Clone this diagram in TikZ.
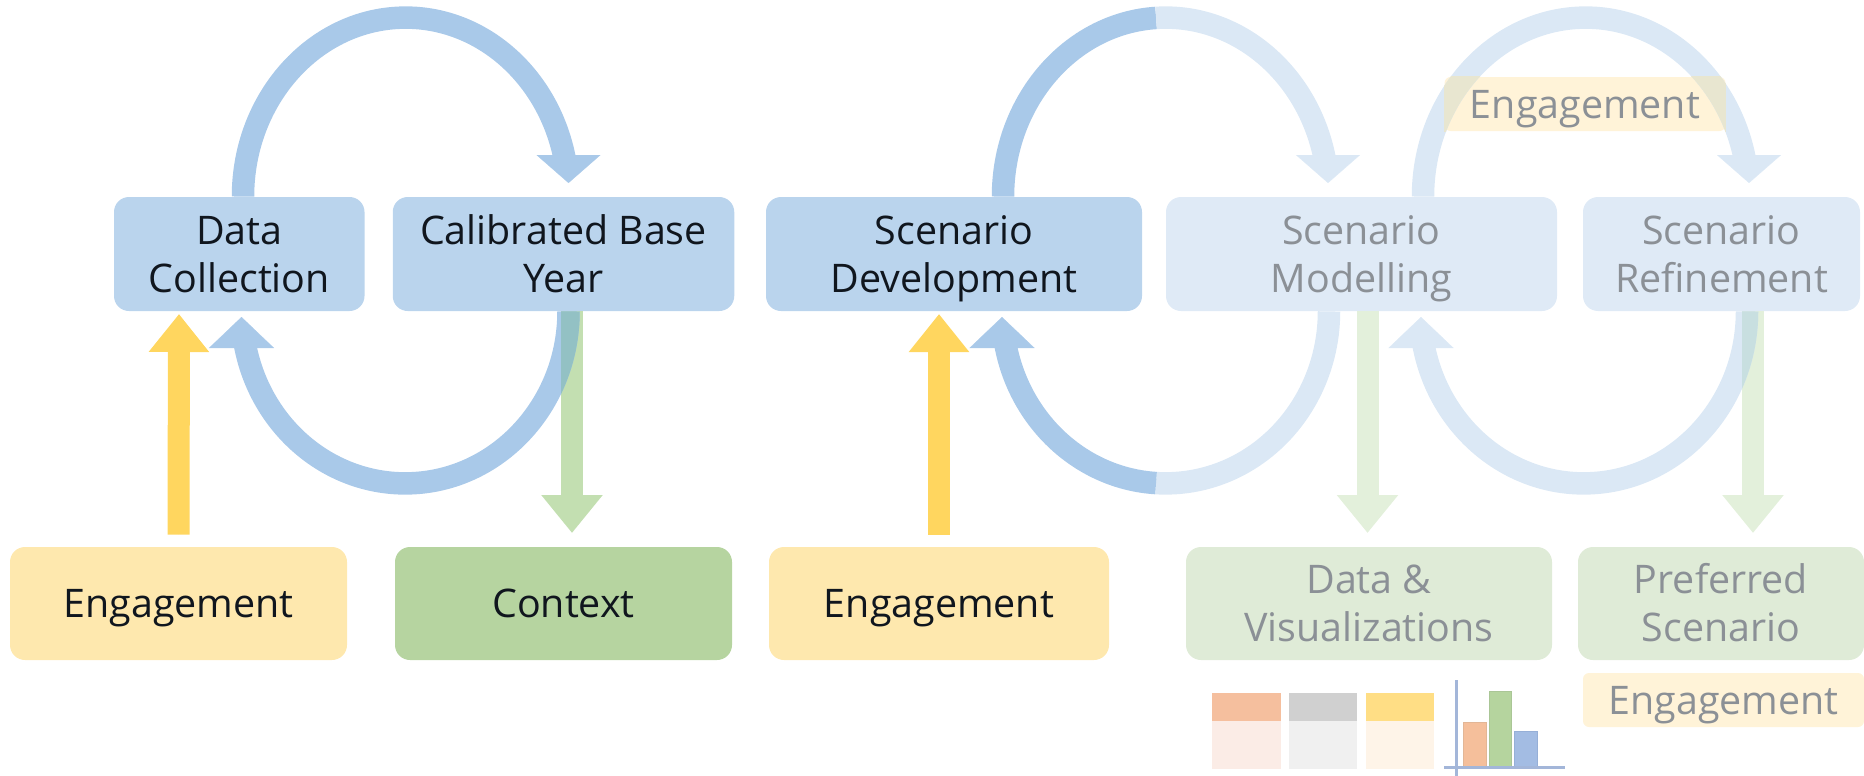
\documentclass[tikz,border=0pt]{standalone}
\usepackage{fontspec}
\setmainfont{Open Sans}
\usetikzlibrary{arrows.meta}
\definecolor{arcD}{HTML}{A9C9E9}
\definecolor{arcL}{HTML}{DBE8F5}
\definecolor{boxD}{HTML}{BAD4ED}
\definecolor{boxL}{HTML}{DFEAF6}
\definecolor{yelA}{HTML}{FFD65F}
\definecolor{yelB}{HTML}{FEE8AE}
\definecolor{yelL}{HTML}{FFF3D8}
\definecolor{grnA}{HTML}{C3DFB1}
\definecolor{grnB}{HTML}{B6D4A0}
\definecolor{grnL}{HTML}{DFEBD7}
\definecolor{grnP}{HTML}{E3F0DB}
\definecolor{txtD}{HTML}{10161E}
\definecolor{txtL}{HTML}{8B9096}
\definecolor{overG}{HTML}{93C1C4}
\definecolor{overL}{HTML}{C8DFE0}
\definecolor{overY}{HTML}{E8E6D0}
\newcommand\lst{\rule[-4.9pt]{0pt}{24pt}}
\tikzset{
  x=0.5pt,y=-0.5pt,
  card/.style={rounded corners=7.5pt,inner sep=0pt,align=center,font=\fontsize{19.7}{24}\selectfont,text=txtD},
  paletext/.style={text=txtL},
  tag/.style={card,rounded corners=3pt,fill=yelL,text=txtL},
  arc/.style={line width=11.25pt,line cap=butt},
  upper/.style={x radius=81.35pt,y radius=89.5pt},
  lower/.style={x radius=81.65pt,y radius=86pt},
  headDown/.style={-{Triangle[length=14pt,width=32pt,sep=0pt]},line width=0.1pt},
  headUp/.style={-{Triangle[length=15.5pt,width=32.5pt,sep=0pt]},line width=0.1pt},
  straightUp/.style={line width=11pt,-{Triangle[length=19pt,width=29pt,sep=0pt]}},
  straightDown/.style={line width=11pt,-{Triangle[length=19pt,width=29.5pt,sep=0pt]}},
}
\begin{document}
\begin{tikzpicture}
\useasboundingbox (0,0) rectangle (1864,776);
% tips
\coordinate (g1tip) at (572,533);
\coordinate (g2tip) at (1367.5,533);
\coordinate (g3tip) at (1753,533);
\coordinate (y1tip) at (179,314);
\coordinate (y2tip) at (939,314);
\coordinate (t1) at (568.5,183);
\coordinate (u1) at (241.5,317);
\coordinate (t2) at (1328,183);
\coordinate (u2) at (1002,317);
\coordinate (t3) at (1749,183);
\coordinate (u3) at (1421,317);
% nodes
\node[card,fill=boxD,minimum width=125.25pt,minimum height=57pt] (dc) at (239.25,254) {Data\lst\\Collection\lst};
\node[card,fill=boxD,minimum width=170.75pt,minimum height=57pt] (cb) at (563.5,254) {Calibrated Base\lst\\Year\lst};
\node[card,fill=boxD,minimum width=188pt,minimum height=57pt] (sd) at (954,254) {Scenario\lst\\Development\lst};
\node[card,fill=boxL,paletext,minimum width=195.5pt,minimum height=57pt] (sm) at (1361.5,254) {Scenario\lst\\Modelling\lst};
\node[card,fill=boxL,paletext,minimum width=138.5pt,minimum height=57pt] (sr) at (1721.5,254) {Scenario\lst\\Refinement\lst};
\node[card,fill=yelB,minimum width=168.5pt,minimum height=56.5pt] (en1) at (178.5,603.5) {Engagement\lst};
\node[card,fill=grnB,minimum width=168.5pt,minimum height=56.5pt] (ctx) at (563.5,603.5) {Context\lst};
\node[card,fill=yelB,minimum width=170pt,minimum height=56.5pt] (en2) at (939,603.5) {Engagement\lst};
\node[card,fill=grnL,paletext,minimum width=183pt,minimum height=56.5pt] (dv) at (1369,603.5) {Data \&\lst\\Visualizations\lst};
\node[card,fill=grnL,paletext,minimum width=143pt,minimum height=56.5pt] (ps) at (1721,603.5) {Preferred\lst\\Scenario\lst};
\node[tag,minimum width=140.5pt,minimum height=27pt] (en3) at (1585,104) {Engagement\lst};
\node[tag,minimum width=140.5pt,minimum height=27pt] (en4) at (1723.5,700) {Engagement\lst};
% straight arrows
\draw[straightDown,draw=grnA,fill=grnA] (572,0 |- cb.south) -- (g1tip);
\draw[straightDown,draw=grnP,fill=grnP] (1367.5,0 |- sm.south) -- (g2tip);
\draw[straightDown,draw=grnP,fill=grnP] (1753,0 |- sr.south) -- (g3tip);
\draw[straightUp,draw=yelA,fill=yelA] ([yshift=6pt]en1.north) -- (y1tip);
\draw[straightUp,draw=yelA,fill=yelA] ([yshift=6pt]en2.north) -- (y2tip);
% loop 1
\draw[arc,draw=arcD] (243,0 |- dc.north) arc[start angle=180,end angle=12,upper];
\draw[headDown,draw=arcD,fill=arcD] ([yshift=14pt]t1) -- (t1);
\draw[arc,draw=arcD] (568.5,0 |- cb.south) arc[start angle=0,end angle=-169,lower];
\draw[headUp,draw=arcD,fill=arcD] ([yshift=-15.5pt]u1) -- (u1);
% loop 2
\draw[arc,draw=arcD] (1003,0 |- sd.north) arc[start angle=180,end angle=93.4,upper] coordinate (a2top);
\draw[arc,draw=arcL] (a2top) arc[start angle=93.4,end angle=12,upper];
\draw[headDown,draw=arcL,fill=arcL] ([yshift=14pt]t2) -- (t2);
\draw[arc,draw=arcL] (1329,0 |- sm.south) arc[start angle=0,end angle=-93.4,lower] coordinate (a2bot);
\draw[arc,draw=arcD] (a2bot) arc[start angle=-93.4,end angle=-169,lower];
\draw[headUp,draw=arcD,fill=arcD] ([yshift=-15.5pt]u2) -- (u2);
% loop 3
\draw[arc,draw=arcL] (1423,0 |- sm.north) arc[start angle=180,end angle=12,upper];
\draw[headDown,draw=arcL,fill=arcL] ([yshift=14pt]t3) -- (t3);
\draw[arc,draw=arcL] (1747,0 |- sr.south) arc[start angle=0,end angle=-169,lower];
\draw[headUp,draw=arcL,fill=arcL] ([yshift=-15.5pt]u3) -- (u3);
% overlaps seen through
\begin{scope}
\clip (561,311) rectangle (583,495);
\draw[arc,draw=overG] (568.5,0 |- cb.south) arc[start angle=0,end angle=-169,lower];
\end{scope}
\begin{scope}
\clip (1742,311) rectangle (1764,495);
\draw[arc,draw=overL] (1747,0 |- sr.south) arc[start angle=0,end angle=-169,lower];
\end{scope}
\begin{scope}
\clip (en3.north west) rectangle (en3.south east);
\draw[arc,draw=overY] (1423,0 |- sm.north) arc[start angle=180,end angle=12,upper];
\end{scope}
% table glyphs
\fill[fill={rgb,255:red,245;green,191;blue,158}] (1212,693) rectangle (1281,721);
\fill[fill={rgb,255:red,251;green,236;blue,230}] (1212,721) rectangle (1281,769);
\fill[fill={rgb,255:red,208;green,208;blue,208}] (1289,693) rectangle (1357,721);
\fill[fill={rgb,255:red,240;green,240;blue,240}] (1289,721) rectangle (1357,769);
\fill[fill={rgb,255:red,255;green,222;blue,133}] (1366,693) rectangle (1434,721);
\fill[fill={rgb,255:red,254;green,244;blue,232}] (1366,721) rectangle (1434,769);
% bar chart
\draw[fill={rgb,255:red,245;green,191;blue,155},draw={rgb,255:red,226;green,182;blue,150},line width=0.4pt] (1463,722) rectangle (1486,767);
\draw[fill={rgb,255:red,181;green,212;blue,158},draw={rgb,255:red,170;green,198;blue,150},line width=0.4pt] (1489,691) rectangle (1511,767);
\draw[fill={rgb,255:red,163;green,188;blue,227},draw={rgb,255:red,150;green,175;blue,215},line width=0.4pt] (1514,731) rectangle (1537,767);
\draw[draw={rgb,255:red,163;green,182;blue,217},line width=1.5pt] (1456,680) -- (1456,776);
\draw[draw={rgb,255:red,163;green,182;blue,217},line width=1.5pt] (1444,767) -- (1565,767);
\end{tikzpicture}
\end{document}
